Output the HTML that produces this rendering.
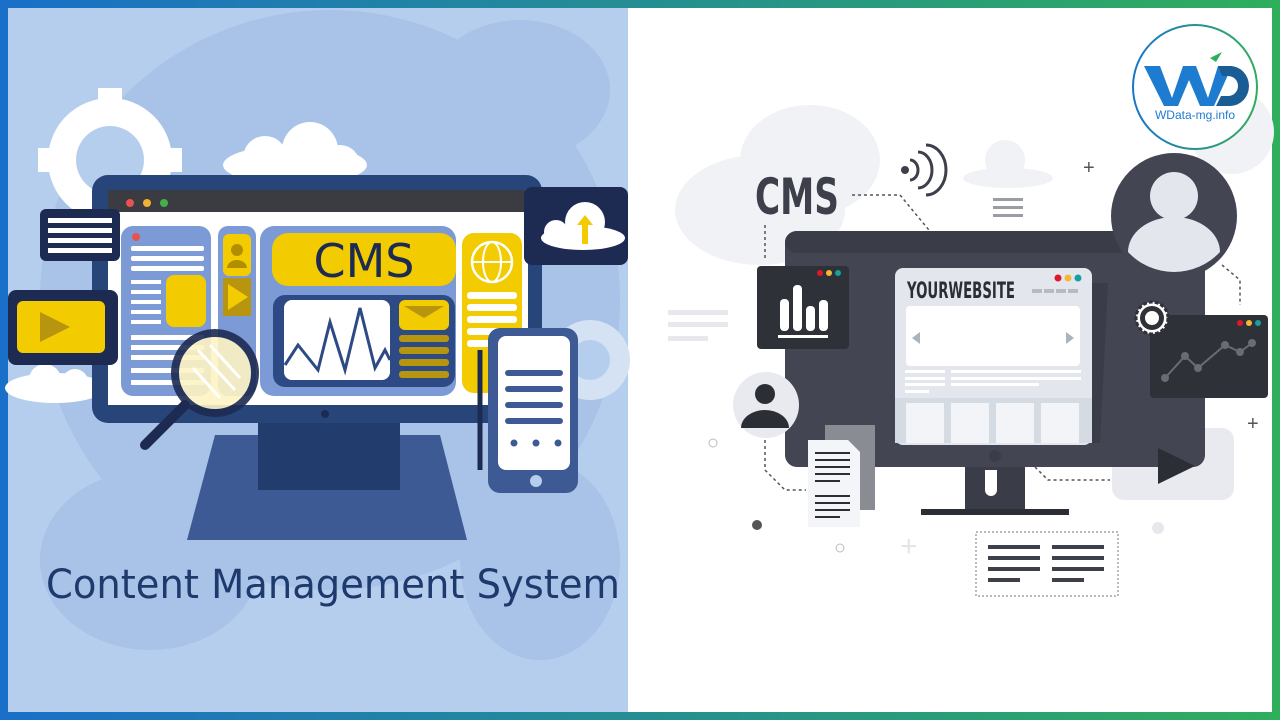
<!DOCTYPE html>
<html><head><meta charset="utf-8"><style>
html,body{margin:0;padding:0;width:1280px;height:720px;overflow:hidden;background:#fff}
svg{display:block}
</style></head><body>
<svg width="1280" height="720" viewBox="0 0 1280 720" xmlns="http://www.w3.org/2000/svg" font-family="Liberation Sans, sans-serif">
<defs>
<linearGradient id="fr" x1="0" y1="0" x2="1" y2="0"><stop offset="0" stop-color="#1a6fc8"/><stop offset="1" stop-color="#2fae5c"/></linearGradient>
<linearGradient id="lg" x1="0" y1="0" x2="1" y2="0"><stop offset="0" stop-color="#1b75c9"/><stop offset="1" stop-color="#2fae5c"/></linearGradient>
</defs>
<rect width="1280" height="720" fill="url(#fr)"/>
<rect x="8" y="8" width="1264" height="704" fill="#fff"/>
<!-- left bg -->
<rect x="8" y="8" width="620" height="704" fill="#b6ceed"/>
<ellipse cx="330" cy="300" rx="290" ry="290" fill="#a8c2e8"/>
<ellipse cx="150" cy="560" rx="110" ry="90" fill="#a8c2e8"/>
<ellipse cx="520" cy="90" rx="90" ry="70" fill="#a8c2e8"/>
<ellipse cx="540" cy="560" rx="80" ry="100" fill="#a8c2e8"/>
<!-- gear -->
<circle cx="110" cy="160" r="62" fill="#fff"/><circle cx="110" cy="160" r="34" fill="#b6ceed"/>
<g fill="#fff"><rect x="98" y="88" width="24" height="22"/><rect x="38" y="148" width="22" height="24"/><rect x="160" y="148" width="22" height="24"/></g>
<circle cx="590" cy="360" r="40" fill="#d4e2f4"/><circle cx="590" cy="360" r="20" fill="#b6ceed"/>
<!-- clouds -->
<g fill="#fff"><ellipse cx="295" cy="165" rx="72" ry="20"/><circle cx="265" cy="158" r="22"/><circle cx="310" cy="150" r="28"/><circle cx="340" cy="165" r="20"/></g>
<g fill="#fff"><ellipse cx="55" cy="388" rx="50" ry="15"/><circle cx="45" cy="380" r="16"/><circle cx="75" cy="382" r="13"/></g>
<!-- left monitor -->
<rect x="92" y="175" width="450" height="248" rx="16" fill="#28457a"/>
<rect x="108" y="190" width="420" height="22" fill="#3b3c42"/>
<circle cx="130" cy="203" r="4" fill="#e8534f"/><circle cx="147" cy="203" r="4" fill="#f0b232"/><circle cx="164" cy="203" r="4" fill="#45b04a"/>
<rect x="108" y="212" width="420" height="193" fill="#fff"/>
<rect x="121" y="226" width="90" height="170" rx="12" fill="#7c9bd6"/>
<circle cx="136" cy="237" r="4" fill="#e8534f"/>
<g fill="#fff"><rect x="131" y="246" width="73" height="5" rx="2"/><rect x="131" y="256" width="73" height="5" rx="2"/><rect x="131" y="266" width="73" height="5" rx="2"/>
<rect x="131" y="280" width="30" height="4"/><rect x="131" y="290" width="30" height="4"/><rect x="131" y="300" width="30" height="4"/><rect x="131" y="310" width="30" height="4"/><rect x="131" y="320" width="30" height="4"/><rect x="131" y="335" width="73" height="5"/><rect x="131" y="345" width="73" height="5"/><rect x="131" y="355" width="73" height="5"/><rect x="131" y="368" width="73" height="5"/><rect x="131" y="380" width="73" height="5"/></g>
<rect x="166" y="275" width="40" height="52" rx="8" fill="#f2cc00"/>
<rect x="218" y="226" width="38" height="170" rx="10" fill="#7c9bd6"/>
<rect x="223" y="234" width="28" height="42" rx="6" fill="#f2cc00"/><circle cx="237" cy="250" r="6" fill="#b08e00"/><path d="M227 268 a10 8 0 0 1 20 0z" fill="#b08e00"/>
<rect x="223" y="278" width="28" height="38" fill="#b8950e"/><path d="M228 284 L248 297 L228 310Z" fill="#f2cc00"/>
<rect x="260" y="226" width="196" height="170" rx="14" fill="#7c9bd6"/>
<rect x="272" y="233" width="184" height="53" rx="16" fill="#f2cc00"/>
<text x="364" y="277" font-size="46" font-family="DejaVu Sans, sans-serif" fill="#1d2b52" text-anchor="middle">CMS</text>
<rect x="273" y="295" width="182" height="92" rx="12" fill="#2d4a84"/>
<rect x="284" y="300" width="106" height="80" rx="8" fill="#fff"/>
<polyline points="285,365 298,345 318,370 330,322 345,370 360,308 375,368 385,350 390,360" fill="none" stroke="#2d4a84" stroke-width="3"/>
<rect x="399" y="300" width="50" height="30" rx="6" fill="#f2cc00"/><path d="M404 306 L424 318 L444 306Z" fill="#b8950e"/>
<g fill="#b8950e"><rect x="399" y="335" width="50" height="7" rx="3"/><rect x="399" y="347" width="50" height="7" rx="3"/><rect x="399" y="359" width="50" height="7" rx="3"/><rect x="399" y="371" width="50" height="7" rx="3"/></g>
<rect x="462" y="233" width="60" height="160" rx="12" fill="#f2cc00"/>
<circle cx="492" cy="262" r="20" fill="none" stroke="#fff" stroke-width="2.5"/><ellipse cx="492" cy="262" rx="9" ry="20" fill="none" stroke="#fff" stroke-width="2"/><line x1="472" y1="262" x2="512" y2="262" stroke="#fff" stroke-width="2"/>
<g fill="#fff"><rect x="467" y="292" width="50" height="7" rx="3"/><rect x="467" y="304" width="50" height="7" rx="3"/><rect x="467" y="316" width="50" height="7" rx="3"/><rect x="467" y="328" width="50" height="7" rx="3"/><rect x="467" y="340" width="50" height="7" rx="3"/></g>
<circle cx="325" cy="414" r="4" fill="#1d2b52"/>
<!-- stand -->
<path d="M215 435 H440 L467 540 H187Z" fill="#3d5a94"/>
<path d="M258 423 H400 V490 H258Z" fill="#223c6e"/>
<!-- magnifier -->
<line x1="145" y1="445" x2="185" y2="405" stroke="#1d2b52" stroke-width="10" stroke-linecap="round"/>
<circle cx="215" cy="373" r="40" fill="#fdf3c4" opacity=".9" stroke="#1d2b52" stroke-width="8"/>
<g stroke="#fff" stroke-width="3"><line x1="198" y1="350" x2="235" y2="390"/><line x1="210" y1="345" x2="240" y2="378"/><line x1="193" y1="368" x2="220" y2="398"/></g>
<!-- phone -->
<line x1="480" y1="350" x2="480" y2="470" stroke="#1d2b52" stroke-width="5"/>
<rect x="488" y="328" width="90" height="165" rx="12" fill="#3d5a94"/>
<rect x="498" y="336" width="72" height="134" rx="8" fill="#fff"/>
<g fill="#3d5a94"><rect x="505" y="370" width="58" height="6" rx="3"/><rect x="505" y="386" width="58" height="6" rx="3"/><rect x="505" y="402" width="58" height="6" rx="3"/><rect x="505" y="418" width="58" height="6" rx="3"/><circle cx="514" cy="443" r="3.5"/><circle cx="536" cy="443" r="3.5"/><circle cx="558" cy="443" r="3.5"/></g>
<circle cx="536" cy="481" r="6" fill="#b6ceed"/>
<!-- bubbles -->
<rect x="40" y="209" width="80" height="52" rx="6" fill="#1d2b52"/>
<g fill="#fff"><rect x="48" y="218" width="64" height="5"/><rect x="48" y="228" width="64" height="5"/><rect x="48" y="238" width="64" height="5"/><rect x="48" y="248" width="64" height="5"/></g>
<rect x="8" y="290" width="110" height="75" rx="8" fill="#1d2b52"/>
<rect x="17" y="301" width="88" height="52" rx="6" fill="#f2cc00"/><path d="M40 312 L70 327 L40 342Z" fill="#b8950e"/>
<rect x="524" y="187" width="104" height="78" rx="8" fill="#1d2b52"/>
<g fill="#fff"><ellipse cx="583" cy="238" rx="42" ry="12"/><circle cx="585" cy="222" r="20"/><circle cx="556" cy="232" r="12"/></g>
<path d="M577 225 L585 215 L593 225 H588 V244 H582 V225Z" fill="#f2cc00"/>
<text x="46" y="598" font-size="40" fill="#1e3a6c" font-family="DejaVu Sans, sans-serif" textLength="574" lengthAdjust="spacingAndGlyphs">Content Management System</text>

<!-- right side -->
<g fill="#f1f2f5"><ellipse cx="760" cy="210" rx="85" ry="55"/><ellipse cx="810" cy="160" rx="70" ry="55"/><ellipse cx="1008" cy="178" rx="45" ry="10"/><circle cx="1005" cy="160" r="20"/></g>
<circle cx="1232" cy="132" r="42" fill="#f1f2f5"/>
<rect x="1112" y="428" width="122" height="72" rx="12" fill="#e8eaef"/>
<g fill="#e6e8ec"><rect x="668" y="310" width="60" height="5"/><rect x="668" y="322" width="60" height="5"/><rect x="668" y="336" width="40" height="5"/></g>
<text x="755" y="214" font-size="50" font-weight="bold" fill="#3d3f4a" font-family="DejaVu Sans Condensed, Liberation Sans Narrow, sans-serif" textLength="84" lengthAdjust="spacingAndGlyphs">CMS</text>
<g fill="none" stroke="#3d3f4a" stroke-width="3"><path d="M910 160 a8 10 0 0 1 0 20"/><path d="M918 152 a14 18 0 0 1 0 36"/><path d="M926 145 a20 25 0 0 1 0 50"/></g>
<circle cx="905" cy="170" r="4" fill="#3d3f4a"/>
<g fill="#9a9ca6"><rect x="993" y="198" width="30" height="3"/><rect x="993" y="206" width="30" height="3"/><rect x="993" y="214" width="30" height="3"/></g>
<g stroke="#555" stroke-width="1.5" stroke-dasharray="3,3" fill="none"><path d="M852 195 H900 L952 258"/><path d="M765 225 V258"/><path d="M765 440 V470 L785 490 H806"/><path d="M1018 450 L1048 480 H1110"/><path d="M1222 265 L1240 280 V305"/></g>
<text x="1083" y="174" font-size="20" fill="#555">+</text><text x="1247" y="430" font-size="20" fill="#555">+</text>
<text x="900" y="556" font-size="30" fill="#e3e5ea">+</text>
<circle cx="757" cy="525" r="5" fill="#555"/><circle cx="840" cy="548" r="4" fill="none" stroke="#bbb"/><circle cx="713" cy="443" r="4" fill="none" stroke="#bbb"/><circle cx="1158" cy="528" r="6" fill="#e6e8ec"/>
<!-- monitor -->
<rect x="785" y="231" width="420" height="236" rx="12" fill="#434552"/>
<rect x="785" y="231" width="420" height="22" rx="12" fill="#3a3c48"/>
<path d="M1092 283 H1108 L1100 443 H1092Z" fill="#3a3c47"/>
<rect x="895" y="268" width="197" height="177" rx="8" fill="#e3e7ed"/>
<text x="907" y="298" font-size="22" font-weight="bold" fill="#2c2e36" font-family="DejaVu Sans Condensed, sans-serif" textLength="108" lengthAdjust="spacingAndGlyphs">YOURWEBSITE</text>
<circle cx="1058" cy="278" r="3.5" fill="#e0162b"/><circle cx="1068" cy="278" r="3.5" fill="#f5b731"/><circle cx="1078" cy="278" r="3.5" fill="#16a0a0"/>
<g fill="#b5bac3"><rect x="1032" y="289" width="10" height="4"/><rect x="1044" y="289" width="10" height="4"/><rect x="1056" y="289" width="10" height="4"/><rect x="1068" y="289" width="10" height="4"/></g>
<rect x="906" y="306" width="174" height="60" rx="4" fill="#fff"/>
<path d="M920 332 L912 338 L920 344Z" fill="#a9b4bf"/><path d="M1066 332 L1074 338 L1066 344Z" fill="#a9b4bf"/>
<g fill="#fff"><rect x="905" y="370" width="40" height="3"/><rect x="951" y="370" width="130" height="3"/><rect x="905" y="377" width="40" height="3"/><rect x="951" y="377" width="130" height="3"/><rect x="905" y="383" width="40" height="3"/><rect x="951" y="383" width="88" height="3"/><rect x="905" y="390" width="24" height="3"/></g>
<rect x="895" y="398" width="197" height="45" fill="#d5dbe3"/>
<g fill="#f2f4f7"><rect x="906" y="403" width="38" height="40"/><rect x="951" y="403" width="38" height="40"/><rect x="996" y="403" width="38" height="40"/><rect x="1041" y="403" width="38" height="40"/></g>
<circle cx="995" cy="456" r="6" fill="#3a3c47"/>
<path d="M965 467 H1025 V510 H965Z" fill="#3a3c47"/><path d="M985 470 h12 v20 a6 6 0 0 1 -12 0Z" fill="#fff"/>
<rect x="921" y="509" width="148" height="6" fill="#2c2e36"/>
<!-- chart card -->
<rect x="757" y="266" width="92" height="83" rx="4" fill="#2f3139"/>
<circle cx="820" cy="273" r="3" fill="#e0162b"/><circle cx="829" cy="273" r="3" fill="#f5b731"/><circle cx="838" cy="273" r="3" fill="#16a0a0"/>
<g fill="#fff"><rect x="780" y="299" width="9" height="32" rx="4"/><rect x="793" y="285" width="9" height="46" rx="4"/><rect x="806" y="306" width="9" height="25" rx="4"/><rect x="819" y="300" width="9" height="31" rx="4"/><rect x="778" y="335" width="50" height="3"/></g>
<!-- line chart card -->
<rect x="1150" y="315" width="118" height="83" rx="4" fill="#2f3139"/>
<circle cx="1240" cy="323" r="3" fill="#e0162b"/><circle cx="1249" cy="323" r="3" fill="#f5b731"/><circle cx="1258" cy="323" r="3" fill="#16a0a0"/>
<polyline points="1165,378 1185,356 1198,368 1225,345 1240,352 1252,343" fill="none" stroke="#6a6c75" stroke-width="2"/>
<g fill="#6a6c75"><circle cx="1165" cy="378" r="4"/><circle cx="1185" cy="356" r="4"/><circle cx="1198" cy="368" r="4"/><circle cx="1225" cy="345" r="4"/><circle cx="1240" cy="352" r="4"/><circle cx="1252" cy="343" r="4"/></g>
<circle cx="1152" cy="318" r="16" fill="#fff" stroke="#2f3139" stroke-width="3" stroke-dasharray="4,2"/><circle cx="1152" cy="318" r="12" fill="#2f3139"/><circle cx="1152" cy="318" r="7" fill="#fff"/>
<!-- big user -->
<circle cx="1174" cy="216" r="63" fill="#434552"/>
<circle cx="1174" cy="196" r="24" fill="#e3e6ec"/><path d="M1128 252 a46 35 0 0 1 92 0 a63 63 0 0 1 -92 0Z" fill="#e3e6ec"/>
<!-- small user -->
<circle cx="766" cy="405" r="33" fill="#e8eaef"/>
<circle cx="765" cy="394" r="10" fill="#2c2e36"/><path d="M741 428 a24 18 0 0 1 48 0Z" fill="#2c2e36"/>
<!-- play -->
<path d="M1158 448 L1195 466 L1158 484Z" fill="#2c2e36"/>
<!-- docs -->
<rect x="825" y="425" width="50" height="85" fill="#8a8c94"/>
<path d="M808 440 H848 L860 452 V527 H808Z" fill="#f4f5f8"/>
<g fill="#2c2e36"><rect x="815" y="452" width="35" height="2"/><rect x="815" y="459" width="35" height="2"/><rect x="815" y="466" width="35" height="2"/><rect x="815" y="473" width="35" height="2"/><rect x="815" y="480" width="25" height="2"/><rect x="815" y="495" width="35" height="2"/><rect x="815" y="502" width="35" height="2"/><rect x="815" y="509" width="35" height="2"/><rect x="815" y="516" width="25" height="2"/></g>
<!-- text block -->
<rect x="976" y="532" width="142" height="64" fill="none" stroke="#777" stroke-dasharray="2,2"/>
<g fill="#3d3f4a"><rect x="988" y="545" width="52" height="4"/><rect x="1052" y="545" width="52" height="4"/><rect x="988" y="556" width="52" height="4"/><rect x="1052" y="556" width="52" height="4"/><rect x="988" y="567" width="52" height="4"/><rect x="1052" y="567" width="52" height="4"/><rect x="988" y="578" width="32" height="4"/><rect x="1052" y="578" width="32" height="4"/></g>
<!-- logo -->
<circle cx="1195" cy="87" r="62" fill="#fff" stroke="url(#lg)" stroke-width="2"/>
<path d="M1144 66 H1160 L1172 98 L1183 66 H1196 L1208 98 L1218 66 H1232 L1214 106 H1200 L1189 80 L1178 106 H1164Z" fill="#1e7cd0"/>
<path d="M1218 66 H1230 a19 20 0 0 1 0 40 H1216 L1221 96 H1228 a10 10 0 0 0 0 -20 H1222Z" fill="#1a5d95"/>
<path d="M1210 58 L1222 52 L1216 62Z" fill="#2fae5c"/>
<text x="1195" y="119" font-size="12" fill="#1e7cd0" text-anchor="middle">WData-mg.info</text>
</svg>
</body></html>
